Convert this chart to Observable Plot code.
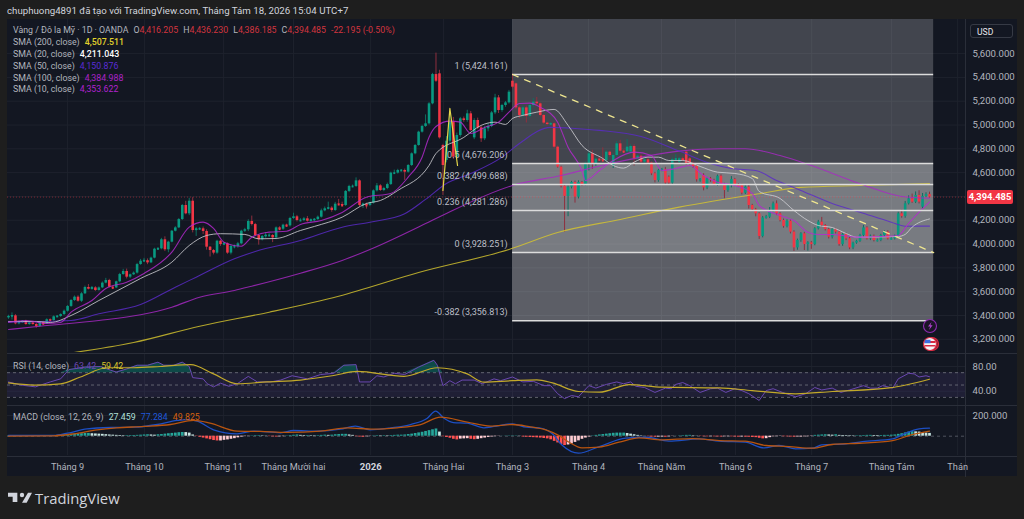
<!DOCTYPE html>
<html lang="vi">
<head>
<meta charset="utf-8">
<script src="https://cdn.jsdelivr.net/npm/d3@7"></script>
<script src="https://cdn.jsdelivr.net/npm/@observablehq/plot@0.6"></script>
<style>
html,body{margin:0;padding:0;background:#1e1e1e;width:1024px;height:519px;overflow:hidden}
body{position:relative;font-family:Roboto,"Liberation Sans",sans-serif;font-size:8.8px;color:#b2b5be}
#pane{position:absolute;left:7px;top:19px;width:1010px;height:457px;background:#131722}
.layer{position:absolute;left:0;top:0}
.layer svg{background:transparent!important;display:block}
.t{position:absolute;white-space:pre;line-height:12px}
.g{margin-left:5px}
</style>
</head>
<body>
<div id="pane"></div>
<div id="charts"></div>
<div class="t" style="left:7px;top:5px;font-size:9.7px;color:#d1d4dc">chuphuong4891 đã tạo với TradingView.com, Tháng Tám 18, 2026 15:04 UTC+7</div>
<div id="legend"></div>
<div class="t" style="left:970px;top:24px;width:43px;height:14px;line-height:14px;border:1px solid #363a45;border-radius:3px;box-sizing:border-box;padding-left:6px;color:#e8e8ec;font-size:8.6px">USD</div>
<div id="tag" class="t" style="left:967px;top:190px;width:46px;height:14px;line-height:14px;background:#f23645;border-radius:2px;color:#fff;font-weight:700;text-align:center;font-size:9.4px"></div>
<svg class="layer" style="left:921px;top:317px" width="20" height="36" viewBox="0 0 20 36">
  <circle cx="9" cy="9" r="6.5" fill="#1a1526" stroke="#8e2bb0" stroke-width="1.1"/>
  <path d="M10.5 5 L7 9.6 H9.2 L8 13 L11.6 8.2 H9.4Z" fill="#b040d0"/>
  <circle cx="11" cy="27" r="6.5" fill="#7d1f2e" stroke="#d8283f" stroke-width="1.2"/>
  <circle cx="9" cy="27" r="6.5" fill="#f4f4f6" stroke="#d8283f" stroke-width="1.2"/>
  <path d="M3.5 24h11v2h-11zM3.5 28h11v1.6h-11z" fill="#d8283f"/>
  <path d="M4 22.8h5.5v3.4H3.4z" fill="#3d6ee0"/>
</svg>
<svg class="layer" style="left:8px;top:490px" width="24" height="16" viewBox="0 0 36 20">
  <path d="M0 2h14v14H7V8H0zM30 2h6l-8 15h-7z" fill="#d1d4dc"/><circle cx="21" cy="5.4" r="3.3" fill="#d1d4dc"/>
</svg>
<div class="t" style="left:35px;top:489px;font-size:14.8px;line-height:18px;color:#d1d4dc;font-weight:500;font-family:'Open Sans',Roboto,sans-serif">TradingView</div>
<script>
// ---- Price candles (OANDA XAUUSD, daily) ----
const closes = [
3392,3397,3330,3344,3350,3324,3338,3324,3308,3341,
3330,3364,3358,3389,3392,3408,3436,3476,3526,3554,
3520,3582,3635,3621,3632,3610,3632,3672,3694,3638,
3632,3683,3744,3770,3722,3742,3756,3828,3856,3860,
3842,3882,3957,3960,4036,3952,4016,4108,4136,4206,
4324,4254,4360,4114,4125,4128,4106,3974,3946,3924,
4024,3996,4002,3924,3980,3980,4002,4108,4120,4190,
4164,4072,4036,4064,4072,4072,4052,4136,4125,4159,
4153,4215,4229,4198,4198,4212,4192,4201,4206,4226,
4279,4296,4302,4282,4335,4332,4324,4442,4484,4484,
4531,4324,4332,4324,4344,4447,4489,4450,4467,4500,
4596,4596,4618,4618,4604,4660,4758,4828,4940,4988,
5010,5178,5424,5368,4892,4660,4864,5024,4730,4912,
5052,5038,5094,4954,5038,4976,4884,4968,4988,5102,
5228,5122,5164,5186,5276,5318,5144,5080,5144,5072,
5164,5192,5178,5080,5016,5004,5010,4814,4646,4486,
4400,4478,4517,4394,4517,4500,4674,4758,4668,4713,
4708,4702,4772,4744,4744,4842,4780,4775,4814,4820,
4716,4738,4688,4708,4680,4590,4534,4618,4624,4512,
4512,4708,4713,4716,4702,4674,4674,4652,4540,4542,
4472,4548,4534,4500,4570,4500,4450,4492,4542,4500,
4492,4428,4478,4324,4288,4254,4064,4220,4226,4282,
4338,4254,4198,4148,4192,4100,3968,4030,4086,3996,
4010,3996,4128,4184,4156,4122,4058,4120,4100,3996,
4080,4044,3968,4008,4024,4072,4136,4044,4066,4030,
4030,4072,4100,4044,4044,4066,4254,4232,4338,4380,
4352,4408,4352,4400,4416,4394.485];
const gapOpens = {0:3380,124:5430,125:4828,126:4702,134:4892,145:5368,146:5346,174:4660,179:4772,190:4562,193:4688,195:4772,196:4716,200:4576,263:4310};
const wickUp = [
10,25,10,8,8,10,5,5,8,5, 10,8,8,8,8,6,10,8,8,10,
12,10,12,25,12,10,8,10,18,10, 8,6,10,18,20,6,10,10,15,20,
15,8,8,10,12,25,8,6,10,8, 8,35,25,30,15,10,15,15,5,8,
8,8,8,8,10,12,12,8,12,14, 45,10,8,8,25,15,8,8,10,8,
8,10,30,12,15,12,20,10,8,10, 15,15,50,12,15,40,20,8,10,12,
25,8,12,12,8,8,20,10,10,12, 8,25,10,8,12,8,8,8,8,10,
75,10,10,180,30,10,40,60,40,20, 12,15,30,20,15,20,15,20,25,12,
30,20,10,12,15,60,8,10,15,15, 15,30,40,8,8,8,10,8,10,8,
10,10,10,12,15,8,15,20,30,10, 15,100,15,10,15,20,30,12,65,15,
15,10,12,15,12,10,12,10,12,20, 10,15,40,12,15,15,12,15,12,8,
15,10,12,10,10,12,10,10,25,10, 8,10,12,15,10,12,10,12,15,25,
15,25,10,12,12,10,12,12,10,12, 10,12,10,15,40,8,10,10,12,12,
10,12,12,8,8,10,20,10,10,10, 12,10,12,12,10,10,15,30,20,25,
40,30,40,25,15,20];
const wickDown = [
12,30,8,8,8,6,6,5,15,6, 6,5,6,6,6,8,8,8,8,8,
8,10,6,6,8,8,6,6,6,6, 8,6,8,6,15,12,6,8,6,6,
15,6,6,8,8,15,25,6,6,6, 8,8,15,20,50,10,25,25,55,15,
10,15,10,10,15,20,15,8,10,15, 12,10,45,10,15,10,40,15,8,10,
8,10,8,12,10,10,8,8,10,8, 8,8,8,15,8,8,10,8,10,10,
8,12,25,30,10,8,10,8,10,10, 8,8,8,8,70,8,8,8,6,8,
8,10,8,10,10,252,20,20,20,20, 15,15,15,10,15,15,30,15,25,10,
15,25,15,15,10,15,15,25,20,55, 15,15,15,12,12,10,10,15,8,15,
300,170,15,50,15,15,10,60,40,15, 15,15,15,15,25,15,15,15,15,15,
60,10,15,15,15,15,20,15,10,10, 12,15,15,15,10,12,12,15,20,20,
25,15,15,10,15,10,70,15,20,15, 15,15,12,30,15,25,25,12,10,12,
12,15,12,15,12,15,30,20,15,50, 55,40,10,10,15,12,15,15,15,15,
15,15,15,15,10,10,15,10,15,12, 12,10,15,10,10,10,15,15,15,10,
10,12,15,15,10,8];
const lastClose = 4394.485;

// ---- Moving averages ----
const sma200Bars=[17,36,55,75,95,118,144,158,176,193,216,228,245,265];
const sma200Vals=[3081,3173,3310,3428,3562,3761,3955,4097,4207,4310,4423,4476,4492,4507.5];
const sma100Bars=[0,9,26,38,47,55,65,70,84,96,104,123,126,145,159,172,193,205,212,222,231,245,257,265];
const sma100Vals=[3282,3310,3358,3406,3470,3554,3610,3646,3755,3862,3955,4215,4257,4492,4576,4669,4781,4801,4801,4744,4660,4507,4400,4385];
const sma50Bars=[0,18,26,38,48,54,65,71,84,96,104,114,120,126,133,142,147,156,163,170,182,193,202,208,215,221,228,237,245,254,258,265];
const sma50Vals=[3344,3358,3414,3492,3638,3722,3876,3938,4030,4142,4184,4255,4375,4509,4593,4730,4845,4980,4971,4955,4904,4781,4677,4635,4618,4534,4450,4341,4268,4184,4150,4151];
const sma20Bars=[0,8,12,18,26,38,47,52,57,61,68,72,77,84,88,96,103,107,112,121,123,131,136,140,143,145,148,152,157,161,165,171,174,177,180,184,187,190,194,199,204,209,214,216,222,226,230,233,237,241,244,256,258,260,265];
const sma20Vals=[3350,3350,3341,3400,3526,3711,3848,3988,4072,4087,4081,4044,4047,4114,4148,4226,4341,4366,4450,4660,4761,4896,4997,5024,5005,5055,5081,5108,5131,4997,4829,4719,4660,4638,4688,4730,4730,4702,4702,4652,4604,4593,4551,4442,4383,4282,4198,4156,4139,4089,4058,4064,4081,4142,4211];
const sma10Bars=[0,5,11,15,18,24,28,34,39,47,52,56,59,62,67,70,75,80,84,90,96,103,110,115,119,121,123,127,130,133,137,141,144,147,150,153,158,161,165,166,170,174,180,185,188,192,196,200,204,209,214,216,222,226,230,233,237,244,251,256,259,262,265];
const sma10Vals=[3344,3358,3333,3341,3428,3526,3627,3680,3753,3932,4142,4184,4131,4016,3982,4058,4100,4108,4165,4198,4266,4394,4425,4562,4730,4898,4988,5033,5024,4929,4980,5024,5108,5181,5184,5150,5024,4814,4618,4534,4618,4702,4772,4744,4618,4635,4660,4576,4520,4492,4425,4324,4240,4198,4100,4081,4081,4058,4064,4072,4173,4268,4353.6];

// ---- Fibonacci drawing and trend line ----
const fibLevels=[5424.161,4676.206,4499.688,4281.286,3928.251,3356.813];
const fibLabels=["1 (5,424.161)","0.5 (4,676.206)","0.382 (4,499.688)","0.236 (4,281.286)","0 (3,928.251)","-0.382 (3,356.813)"];
const fibStartBar=145.05, fibEndBar=266.2, fibLabelBar=143.6;
const trendBars=[145.05,266.2], trendVals=[5424.161,3928.251];
const spikeBars=[125,127,129.2], spikeVals=[4450,5139,4660];

// ---- RSI ----
const rsiBars=[0,3.5,7.8,8.7,12,15,17.4,22,26.5,29.4,31,34,37,40,43,44.7,47.6,50,52,53,56,57.2,59,61,63.4,65.8,69,71.6,75.4,78.3,81.6,86,89.8,93.6,96.5,100,101,104,106,108,111,114,118,122.4,123.4,125,127,128.6,130.5,134,136.3,139.7,141.6,145,148,151,154,156,158,160,162,164,167,169,172,175,177,179,180.5,183,186,189,190.6,192,194,196,199,202,204,206.4,209,211,213,216,218,220,222.7,226.5,229.4,232,234,237,239.5,242,246,248,250,251.5,254.4,256,259,260.6,262,264,265];
const rsiVals=[55,50,47,49,55,60,75,79,80,74,71,76,82,82,87,82,82,87,80,62,60,52,47,53,48,52,64,55,55,58,65,60,67,69,82,83,55,55,65,63,69,67,79,90,82,49,57,52,58,58,52,60,57,63,55,56,49,49,36,28,33,31,49,45,51,55,52,55,48,46,38,45,44,51,54,49,38,44,45,38,44,41,36,25,41,44,38,31,36,46,42,45,38,42,49,45,45,49,45,60,69,68,63,65,63.42];
const rsiMaBars=[0,7.3,15,20.7,28.4,36,43.7,52.4,59,65.8,74.4,84,93.6,100.3,113.8,123.4,132,136.8,145,152,156.5,164,170,178.6,188,204.5,214,226.5,237,253.4,265];
const rsiMaVals=[53.5,50,52,63,78,78,80,83,68,52,55,58,65.4,72,64,78,68,54.6,57,58.4,53.5,39.5,38.4,50.8,46.5,45.4,41,35.7,39.5,45.4,59.42];
const rsiLevels=[70,50,30];

// ---- MACD ----
const macdBars=[0,13,17,22.6,29.4,36,42.8,48.5,51.4,54.3,59,65.8,70.6,78.3,82,88.8,95.5,99.8,104,110,115.7,120.5,122.9,125.3,128,132,136.8,139.7,145,149,152.7,156.5,159.4,164,170,177.6,183.4,190,198.7,204.5,212,217.4,221.7,226.5,231.3,234,241,245.7,254.4,257.3,262,265];
const macdVals=[7,7,29,71,84,87,113,152,161,145,62,23,49,33,55,49,68,97,62,81,113,174,242,174,132,126,81,94,119,87,81,23,-90,-164,-100,-19,-10,-48,-26,-48,-58,-113,-90,-122,-116,-84,-74,-52,-26,16,71,77.284];
const signalBars=[0,13,18.8,25.5,31,39,46.6,53.3,58,65.8,72.5,80,89.8,97.5,105,111.8,118.6,124.3,132,138.7,145,149.8,154.6,158.4,161.3,165,170,175.7,181.4,188,196.8,204.5,212,218,224.6,231.3,237,244.8,254.4,260,265];
const signalVals=[0,4,23,62,81,94,113,152,126,49,46,36,49,81,68,81,113,184,136,97,113,93,61,6,-58,-113,-106,-58,-16,-35,-23,-42,-48,-90,-100,-116,-80,-68,-42,16,49.825];
const histogram=[
3,3,2,1,-2,-3,-3,-4,-3,-2,-2,-1,1,
2,4,7,10,14,18,
20,22,24,26,27,24,22,20,18,
15,12,10,8,7,5,5,
6,7,8,10,12,14,12,10,14,16,20,
24,27,30,34,36,35,30,12,
-3,-10,-18,-26,-34,-42,-46,
-46,-40,-36,-30,-24,-16,
-8,-4,-2,3,5,5,
4,2,-4,-6,-8,-6,-4,
3,6,9,12,8,6,6,5,4,
5,8,10,8,10,14,16,18,
18,12,8,-4,-8,-10,-6,
-2,3,5,4,5,
4,6,8,10,10,12,16,20,26,32,38,46,54,62,70,
40,
-5,-12,-20,-30,-36,-28,-26,-24,-30,-34,-30,-24,-18,-12,-8,-4,-2,1,2,3,
3,3,2,
-8,-10,-12,-14,-16,-18,-22,-26,
-35,-50,-65,-80,-90,
-85,-75,-60,-45,-30,-18,-8,
3,8,12,16,20,24,28,30,
30,30,26,20,14,8,4,
1,
-5,-8,-10,-9,-8,-10,-6,
-2,1,
3,5,8,8,4,2,
-3,-5,-6,-5,-6,-7,-8,-6,-5,-6,-8,-9,-8,-9,-10,-12,-14,
-20,-26,-24,-14,-6,
-4,-3,-5,-6,-8,-9,-8,-8,-6,-5,-3,
8,10,12,14,12,10,14,
8,7,6,5,4,4,5,
6,8,8,7,6,7,8,8,10,12,
18,24,32,40,44,42,40,34,30,27];

// ---- Axes ----
const priceTicks=[5600,5400,5200,5000,4800,4600,4400,4200,4000,3800,3600,3400,3200];
const priceLabelTicks=[5600,5400,5200,5000,4800,4600,4200,4000,3800,3600,3400,3200];
const rsiTicks=[80,40];
const macdTicks=[200];
const timeBars=[17,39.1,61.9,82,125.2,145,166.9,187.9,209.2,231.1,254.1,273.1];
const timeLabels=["Tháng 9","Tháng 10","Tháng 11","Tháng Mười hai","Tháng Hai","Tháng 3","Tháng 4","Tháng Năm","Tháng 6","Tháng 7","Tháng Tám","Thán"];
const yearBar=[104.2], yearLabel=["2026"];

// ---- Legend texts ----
const header="Vàng / Đô la Mỹ · 1D · OANDA";
const ohlcLabels=["O","H","L","C"], ohlcValues=["4,416.205","4,436.230","4,386.185","4,394.485"], changeText="-22.195 (-0.50%)";
const smaNames=["SMA (200, close)","SMA (20, close)","SMA (50, close)","SMA (100, close)","SMA (10, close)"];
const smaValues=["4,507.511","4,211.043","4,150.876","4,384.988","4,353.622"];

const cGreen="#089981", cRed="#f23645", cGrid="#1e222d", cText="#b2b5be", cWickR="#8f2f3e", cWickG="#0e6f60";
const c200="#d6c52e", c20="#d0d0d4", c50="#5a2bc8", c100="#a828c4", c10="#b42ad0";
const font="Roboto, 'Liberation Sans', sans-serif";

const bars=closes.map((c,i)=>{
  const o=gapOpens[i]!==undefined?gapOpens[i]:(i?closes[i-1]:c);
  return {i,o,c,h:Math.max(o,c)+wickUp[i],l:Math.min(o,c)-wickDown[i],up:c>=o};
});
const xScale={domain:[0,265],range:[8,929],axis:null};
const common={width:1024,height:519,marginLeft:7,marginRight:59,x:xScale,style:{background:"transparent",fontFamily:font,overflow:"visible"}};
const gridRules=()=>Plot.ruleX(timeBars.concat(yearBar),{stroke:cGrid,strokeWidth:1});
const smaLine=(b,v,c,w)=>Plot.line(v,{x:b,y:v,stroke:c,strokeWidth:w,strokeOpacity:.82,curve:"monotone-x",clip:true});
const axisRight=(ticks,fmt)=>Plot.axisY(ticks,{anchor:"right",tickSize:0,tickPadding:7,tickFormat:fmt,fill:cText,fontSize:9.6,label:null});

const main=Plot.plot({...common,marginTop:19,marginBottom:167,
  y:{domain:[3400,5400],range:[315,76.9],axis:null},
  marks:[
    gridRules(),
    Plot.ruleY(priceTicks,{stroke:cGrid,strokeWidth:1}),
    // Fibonacci zones
    Plot.rect([0],{x1:fibStartBar,x2:fibEndBar,y1:fibLevels[1],y2:5900,fill:"#ffffff",fillOpacity:.2,clip:true}),
    Plot.rect([0],{x1:fibStartBar,x2:fibEndBar,y1:fibLevels[4],y2:fibLevels[1],fill:"#ffffff",fillOpacity:.43,clip:true}),
    Plot.rect([0],{x1:fibStartBar,x2:fibEndBar,y1:fibLevels[5],y2:fibLevels[4],fill:"#ffffff",fillOpacity:.31,clip:true}),
    Plot.ruleY([lastClose],{stroke:cRed,strokeOpacity:.45,strokeDasharray:"1 2"}),
    // candles
    Plot.ruleX(bars.filter(d=>d.up),{x:"i",y1:"l",y2:"h",stroke:cWickG,strokeWidth:1}),
    Plot.ruleX(bars.filter(d=>!d.up),{x:"i",y1:"l",y2:"h",stroke:cWickR,strokeWidth:1}),
    Plot.ruleX(bars.filter(d=>d.up),{x:"i",y1:"o",y2:"c",stroke:cGreen,strokeWidth:2.6}),
    Plot.ruleX(bars.filter(d=>!d.up),{x:"i",y1:"o",y2:"c",stroke:cRed,strokeWidth:2.6}),
    Plot.dot(bars.filter(d=>Math.abs(d.o-d.c)<12),{x:"i",y:"c",r:1.1,symbol:"square",fill:d=>d.up?cGreen:cRed}),
    // moving averages
    smaLine(sma200Bars,sma200Vals,c200,1.1),
    smaLine(sma100Bars,sma100Vals,c100,1.1),
    smaLine(sma50Bars,sma50Vals,c50,1.1),
    smaLine(sma20Bars,sma20Vals,c20,1),
    smaLine(sma10Bars,sma10Vals,c10,1.1),
    // Fibonacci lines, labels, trend line, spike
    Plot.ruleY(fibLevels,{x1:fibStartBar,x2:fibEndBar,stroke:"#dcdcdc",strokeWidth:1.5}),
    Plot.text(fibLabels,{x:fibLabelBar,y:(d,i)=>fibLevels[i],text:d=>d,textAnchor:"end",dy:-8.5,fill:"#bcbfc7",fontSize:9}),
    Plot.line(trendVals,{x:trendBars,y:trendVals,stroke:"#eee58f",strokeWidth:1.3,strokeDasharray:"6 7"}),
    Plot.line(spikeVals,{x:spikeBars,y:spikeVals,stroke:"#e6d84a",strokeWidth:1.2}),
    axisRight(priceLabelTicks,d3.format(",.3f"))
  ]});

const rsi=Plot.plot({...common,marginTop:354,marginBottom:114,
  y:{domain:[40,80],range:[390.7,366],axis:null},
  marks:[
    gridRules(),
    Plot.ruleY(rsiTicks,{stroke:cGrid}),
    Plot.rect([0],{x1:0,x2:265,y1:30,y2:70,fill:"#7e57c2",fillOpacity:.12,insetLeft:-1,insetRight:-36}),
    Plot.ruleY(rsiLevels,{stroke:"#787b86",strokeOpacity:.75,strokeDasharray:"3 3"}),
    Plot.areaY(rsiVals,{x:rsiBars,y1:70,y2:d=>Math.max(d,70),fill:cGreen,fillOpacity:.4,clip:true}),
    Plot.line(rsiVals,{x:rsiBars,y:rsiVals,stroke:"#6a47b0",strokeWidth:1,clip:true}),
    Plot.line(rsiMaVals,{x:rsiMaBars,y:rsiMaVals,stroke:"#c2a92a",strokeWidth:1.2,curve:"monotone-x",clip:true}),
    axisRight(rsiTicks,d3.format(".2f"))
  ]});

const macd=Plot.plot({...common,marginTop:406,marginBottom:64,
  y:{domain:[0,200],range:[435.7,415],axis:null},
  color:{type:"identity"},
  marks:[
    gridRules(),
    Plot.ruleY(macdTicks,{stroke:cGrid}),
    Plot.ruleY([0],{stroke:"#787b86",strokeOpacity:.6,strokeDasharray:"3 3"}),
    Plot.ruleX(histogram,{x:(d,i)=>i,y1:0,y2:d=>d,strokeWidth:2.7,
      stroke:(d,i)=>{const up=i===0||d>=histogram[i-1];return d>=0?(up?"#26a69a":"#c8e6e2"):(up?"#ffcdd2":"#ff5252");}}),
    Plot.line(macdVals,{x:macdBars,y:macdVals,stroke:"#1d4fc4",strokeWidth:1.3,curve:"monotone-x",clip:true}),
    Plot.line(signalVals,{x:signalBars,y:signalVals,stroke:"#b8540f",strokeWidth:1.3,curve:"monotone-x",clip:true}),
    axisRight(macdTicks,d3.format(".3f")),
    Plot.axisX(timeBars,{anchor:"bottom",tickSize:0,tickPadding:8,tickFormat:(d,i)=>timeLabels[i],fill:cText,fontSize:9.2,label:null}),
    Plot.axisX(yearBar,{anchor:"bottom",tickSize:0,tickPadding:8,tickFormat:(d,i)=>yearLabel[i],fill:"#d1d4dc",fontSize:9.6,fontWeight:700,label:null})
  ]});

// separators
const seps=Plot.plot({...common,marginTop:19,marginBottom:43,
  y:{domain:[0,1],axis:null},
  marks:[Plot.frame({anchor:"right",stroke:"#2a2e39"})]});

const holder=document.getElementById("charts");
[seps,main,rsi,macd].forEach(p=>{const d=document.createElement("div");d.className="layer";d.appendChild(p);holder.appendChild(d);});

function sep(top){const d=document.createElement("div");d.style.cssText=`position:absolute;left:7px;width:1010px;height:1px;background:#2a2e39;top:${top}px`;holder.appendChild(d);}
[353,405,456].forEach(sep);

// legend
const leg=document.getElementById("legend");
function span(t,c,w,gap){return `<span ${gap?'class="g"':''} style="color:${c}${w?";font-weight:"+w:""}">${t}</span>`;}
function line(left,top,html){const d=document.createElement("div");d.className="t";d.style.left=left+"px";d.style.top=top+"px";d.innerHTML=html;leg.appendChild(d);}
const rr="#d2353f";
line(13,24,span(header,cText)+ohlcLabels.map((l,i)=>span(l,cText,0,true)+span(ohlcValues[i],rr)).join("")+span(changeText,rr,0,true));
const smaCols=["#e2d22c","#ffffff","#5a2bd6","#ac22c8","#b022d0"];
smaNames.forEach((n,i)=>line(13,36+i*11.85,span(n,cText)+span(smaValues[i],smaCols[i],i<2?500:0,true)));
line(13,360,span("RSI (14, close)",cText)+span("63.42","#6a47b0",0,true)+span("59.42","#d6c52e",0,true));
line(13,411,span("MACD (close, 12, 26, 9)",cText)+span("27.459","#b2e0da",0,true)+span("77.284","#2057d8",0,true)+span("49.825","#d4600f",0,true));
document.getElementById("tag").textContent=d3.format(",.3f")(lastClose);
</script>
</body>
</html>
